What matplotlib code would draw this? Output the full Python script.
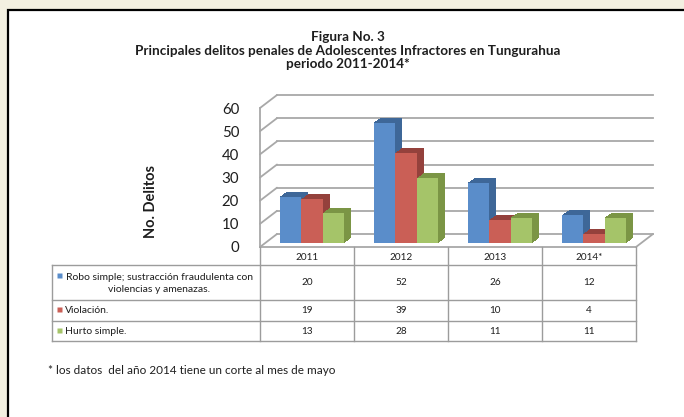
import matplotlib
matplotlib.use("Agg")
import matplotlib.pyplot as plt
from matplotlib.patches import Rectangle
from matplotlib.transforms import ScaledTranslation

# data
years = ['2011', '2012', '2013', '2014*']
series = ['Robo simple; sustracción fraudulenta con\nviolencias y amenazas.',
          'Violación.', 'Hurto simple.']
robo = [20, 52, 26, 12]
violacion = [19, 39, 10, 4]
hurto = [13, 28, 11, 11]
values = [robo, violacion, hurto]
yticks = [0, 10, 20, 30, 40, 50, 60]

front_colors = ['#5A8DCA', '#CA5F56', '#A5C469']
side_colors = ['#3E6798', '#94413C', '#7B9545']
grid_color = '#A8A8A8'
table_color = '#9C9C9C'
text_color = '#1E1E1E'

W, H, DPI = 684, 417, 100
plt.rcParams['font.family'] = ['Lato', 'DejaVu Sans']

fig = plt.figure(figsize=(W / DPI, H / DPI), dpi=DPI, facecolor='#F3F0E1')

# white page with black frame (runs off right/bottom)
fig.patches.append(Rectangle((8 / W, -0.1), 1.2, 1 - 10 / H + 0.1,
                             transform=fig.transFigure, facecolor='white',
                             edgecolor='black', lw=1.6, zorder=-10))

# titles
title_lines = ['Figura No. 3',
               'Principales delitos penales de Adolescentes Infractores en Tungurahua',
               'periodo 2011-2014*']
for line, ypx in zip(title_lines, [37, 51, 64.5]):
    fig.text(348 / W, 1 - ypx / H, line, ha='center', va='center',
             fontsize=9.7, fontweight='bold', color=text_color)

fig.text(151 / W, 1 - 201 / H, 'No. Delitos', rotation=90, ha='center',
         va='center', fontsize=10.5, fontweight='bold', color=text_color)

fig.text(48 / W, 1 - 370 / H, '* los datos  del año 2014 tiene un corte al mes de mayo',
         ha='left', va='center', fontsize=8.5, color=text_color)

# ---- pseudo 3-D chart ----
ax = fig.add_axes([260 / W, 1 - 247 / H, 376 / W, 139 / H])
ax.patch.set_visible(False)
for s in ax.spines.values():
    s.set_visible(False)
ax.set_xticks([])
ax.set_yticks(yticks)
ax.tick_params(axis='y', length=0, pad=15, labelsize=10.8, labelcolor=text_color)


def shift(dx, dy):
    return ax.transData + ScaledTranslation(dx / DPI, dy / DPI, fig.dpi_scale_trans)


wall = (17, 13)
nx = len(years)
for v in yticks:
    # back wall line
    ax.plot([-0.5, nx - 0.5], [v, v], color=grid_color, lw=1.3,
            transform=shift(*wall), clip_on=False, zorder=1)
    # side wall line
    ax.annotate('', xy=(-0.5, v), xytext=wall, textcoords='offset pixels',
                arrowprops=dict(arrowstyle='-', color=grid_color, lw=1.3,
                                shrinkA=0, shrinkB=0), zorder=1)
ax.plot([-0.5, -0.5], [0, yticks[-1]], color=grid_color, lw=1.3, clip_on=False, zorder=1)
ax.annotate('', xy=(nx - 0.5, 0), xytext=wall, textcoords='offset pixels',
            arrowprops=dict(arrowstyle='-', color=grid_color, lw=1.3,
                            shrinkA=0, shrinkB=0), zorder=1)

bw = 0.23
front = (5, 4)
depth = (7, 5)
steps = 14
for i in range(nx):
    for j, vals in enumerate(values):
        xc = i + (j - 1) * bw
        for k in range(steps, 0, -1):
            f = k / steps
            ax.bar(xc, vals[i], width=bw, color=side_colors[j], lw=0,
                   transform=shift(front[0] + depth[0] * f, front[1] + depth[1] * f),
                   clip_on=False, zorder=2)
        ax.bar(xc, vals[i], width=bw, color=front_colors[j], lw=0,
               transform=shift(*front), clip_on=False, zorder=2)

ax.set_xlim(-0.5, nx - 0.5)
ax.set_ylim(0, yticks[-1])

# ---- data table ----
unit = 94.0  # pixels per category column
left_units = (260 - 52) / unit
tab = fig.add_axes([52 / W, 1 - 341 / H, (636 - 52) / W, (341 - 247) / H])
tab.set_xlim(-0.5 - left_units, nx - 0.5)
tab.set_ylim(341, 247)
tab.axis('off')

row_edges = [247, 265, 300, 321, 341]
x0 = -0.5 - left_units
tab.plot([-0.5, nx - 0.5], [247, 247], color=grid_color, lw=1.3, clip_on=False)
for r in row_edges[1:]:
    tab.plot([x0, nx - 0.5], [r, r], color=table_color, lw=1.0, clip_on=False)
tab.plot([x0, x0], [265, 341], color=table_color, lw=1.0, clip_on=False)
for c in range(nx + 1):
    tab.plot([c - 0.5, c - 0.5], [247, 341], color=table_color, lw=1.0, clip_on=False)

for i, y in enumerate(years):
    tab.text(i, 257.5, y, ha='center', va='center', fontsize=7.2, color=text_color)

def px_to_u(xpx):
    return -0.5 - (260 - xpx) / unit

for j, (name, vals) in enumerate(zip(series, values)):
    yc = (row_edges[j + 1] + row_edges[j + 2]) / 2
    for i, v in enumerate(vals):
        tab.text(i, yc, str(v), ha='center', va='center', fontsize=7.2, color=text_color)
    if '\n' in name:
        tab.text(px_to_u(159), yc + 1, name, ha='center', va='center', ma='center',
                 fontsize=7.5, color=text_color, linespacing=1.3)
        sq_y = yc - 8
    else:
        tab.text(px_to_u(65), yc, name, ha='left', va='center',
                 fontsize=7.5, color=text_color)
        sq_y = yc - 1.5
    tab.plot(px_to_u(59), sq_y, marker='s', ms=3.6, color=front_colors[j],
             mec='none', clip_on=False)

fig.savefig('out.png', dpi=DPI, facecolor=fig.get_facecolor())
